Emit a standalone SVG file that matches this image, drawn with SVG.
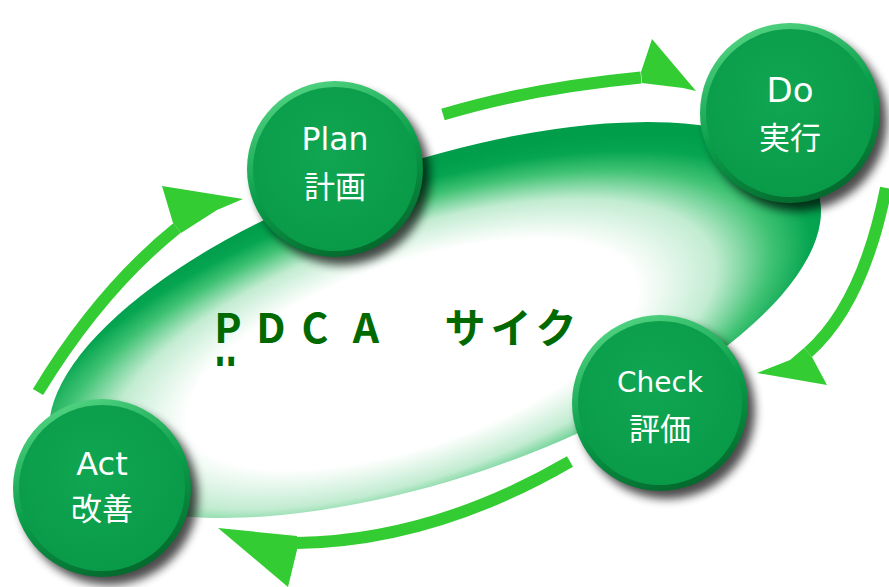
<svg xmlns="http://www.w3.org/2000/svg" width="889" height="587" viewBox="0 0 889 587">
  <style>
    .shaft { fill: none; stroke: #33cc33; stroke-width: 12; stroke-linecap: butt; }
    .head { fill: #33cc33; }
    .shadow { fill: #000; opacity: 0.7; filter: url(#soft); }
    .rim { fill: url(#rimGrad); }
    .face { fill: url(#faceGrad); }
    .en { font-family: "DejaVu Sans", "Noto Sans CJK JP", sans-serif; fill: #fff; text-anchor: middle; }
    .ja { font-family: "Noto Sans CJK JP", sans-serif; font-size: 31px; fill: #fff; text-anchor: middle; }
    .title { font-family: "Noto Sans CJK JP", sans-serif; font-weight: 700; font-size: 41px; fill: #006a00; text-anchor: middle; }
  </style>
  <defs>
    <radialGradient id="ringGrad" cx="0.46" cy="0.58" r="0.56">
      <stop offset="0" stop-color="#ffffff"/>
      <stop offset="0.52" stop-color="#ffffff"/>
      <stop offset="0.7" stop-color="#c2ecd1"/>
      <stop offset="0.83" stop-color="#3fc273"/>
      <stop offset="0.92" stop-color="#06a551"/>
      <stop offset="1" stop-color="#009d4b"/>
    </radialGradient>
    <linearGradient id="rimGrad" x1="0.3" y1="0" x2="0.7" y2="1">
      <stop offset="0" stop-color="#52d482"/>
      <stop offset="0.5" stop-color="#0a9e4a"/>
      <stop offset="1" stop-color="#04652b"/>
    </linearGradient>
    <radialGradient id="faceGrad" cx="0.45" cy="0.4" r="0.62">
      <stop offset="0" stop-color="#10a652"/>
      <stop offset="1" stop-color="#099a48"/>
    </radialGradient>
    <filter id="soft" x="-30%" y="-30%" width="160%" height="160%">
      <feGaussianBlur stdDeviation="5"/>
    </filter>
    <clipPath id="lineCut">
      <rect x="200" y="350" width="60" height="16"/>
    </clipPath>
  </defs>

  <!-- tilted cycle ring with pale centre -->
  <g id="ring">
    <ellipse cx="435" cy="320" rx="404" ry="158" fill="url(#ringGrad)" transform="rotate(-18.7 435 320)"/>
  </g>

  <!-- curved cycle arrows -->
  <g id="connectors">
    <path class="shaft" d="M38,392 Q100,290 177,228"/>
    <polygon class="head" points="173,223 162,186 243,199 217,210 181,233"/>

    <path class="shaft" d="M443,114.5 Q531,88 641,77.5"/>
    <polygon class="head" points="641,72 652,39 696,91 683,88 642,83"/>

    <path class="shaft" d="M886,188 Q863,304 808,352.5"/>
    <polygon class="head" points="812,357 827,385 757,373 790,360 804,348"/>

    <path class="shaft" d="M570,461.5 Q433,541 297,543"/>
    <polygon class="head" points="297,536 218,528 288,587 297,550"/>
  </g>

  <!-- title; the wrapped last character is cut off by the box below -->
  <g id="title">
    <text class="title" x="228 271 315 366 465 511 556" y="343">PDCAサイク</text>
    <text class="title" x="228" y="388" clip-path="url(#lineCut)">ル</text>
  </g>

  <g id="plan" transform="translate(335,169)">
    <circle class="shadow" cx="7" cy="8" r="88"/>
    <circle class="rim" r="88"/>
    <circle class="face" r="82"/>
    <text class="en" y="-19" font-size="31.5">Plan</text>
    <text class="ja" y="29">計画</text>
  </g>

  <g id="do" transform="translate(790,113)">
    <circle class="shadow" cx="7" cy="8" r="90"/>
    <circle class="rim" r="90"/>
    <circle class="face" r="84"/>
    <text class="en" y="-11" font-size="34">Do</text>
    <text class="ja" y="36">実行</text>
  </g>

  <g id="check" transform="translate(660,403)">
    <circle class="shadow" cx="7" cy="8" r="88"/>
    <circle class="rim" r="88"/>
    <circle class="face" r="82"/>
    <text class="en" y="-11" font-size="28">Check</text>
    <text class="ja" y="37">評価</text>
  </g>

  <g id="act" transform="translate(102,488)">
    <circle class="shadow" cx="7" cy="8" r="89"/>
    <circle class="rim" r="89"/>
    <circle class="face" r="83"/>
    <text class="en" y="-13" font-size="32">Act</text>
    <text class="ja" y="32">改善</text>
  </g>
</svg>
